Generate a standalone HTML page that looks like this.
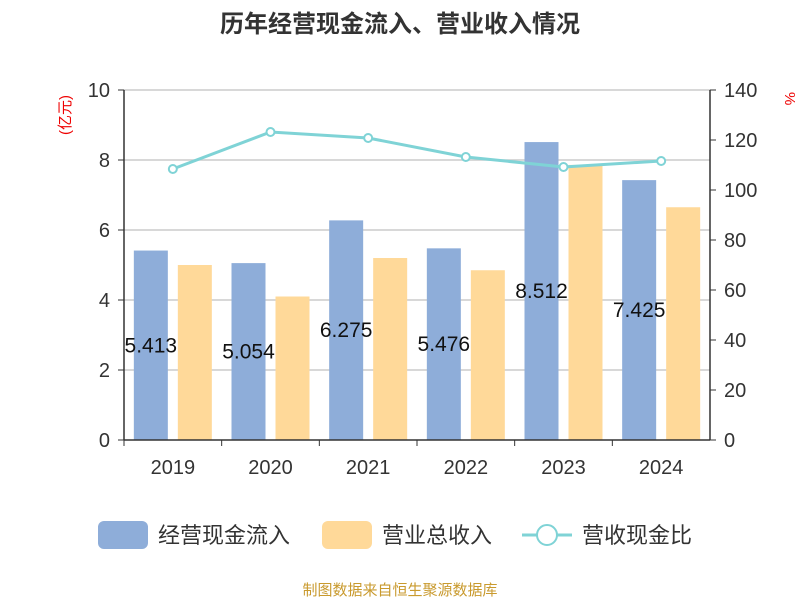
<!DOCTYPE html>
<html><head><meta charset="utf-8"><style>
body{margin:0;background:#fff;font-family:"Liberation Sans","Noto Sans CJK SC",sans-serif;}
</style></head><body>
<svg id="c" width="800" height="600" xmlns="http://www.w3.org/2000/svg" style="font-family:'Liberation Sans','Noto Sans CJK SC',sans-serif">
<text x="400" y="32" text-anchor="middle" font-size="24" font-weight="bold" fill="#333">历年经营现金流入、营业收入情况</text>
<text x="70" y="115" font-size="15" fill="#e00" transform="rotate(-90 70 115)" text-anchor="middle">(亿元)</text>
<text x="785" y="92" font-size="15" fill="#e00" transform="rotate(90 785 92)">%</text>
<g id="grid"></g><g id="bars"></g><g id="line"></g><g id="axes"></g>
<g>
<rect x="98" y="521" width="50" height="28" rx="6" fill="#8eadd9"/>
<text x="158" y="543" font-size="22" fill="#333">经营现金流入</text>
<rect x="322" y="521" width="50" height="28" rx="6" fill="#ffd999"/>
<text x="382" y="543" font-size="22" fill="#333">营业总收入</text>
<line x1="522" y1="535" x2="572" y2="535" stroke="#7fd3d6" stroke-width="3"/>
<circle cx="547" cy="535" r="10" fill="#fff" stroke="#7fd3d6" stroke-width="2"/>
<text x="582" y="543" font-size="22" fill="#333">营收现金比</text>
</g>
<text x="400" y="595" text-anchor="middle" font-size="15" fill="#c99a2e">制图数据来自恒生聚源数据库</text>
</svg>
<script>
const categories=["2019","2020","2021","2022","2023","2024"];
const cashInflow=[5.413,5.054,6.275,5.476,8.512,7.425];
const revenue=[5.0,4.1,5.2,4.85,7.86,6.65];
const ratio=[108.4,123.2,120.8,113.2,109.2,111.6];
const leftTicks=[0,2,4,6,8,10];
const rightTicks=[0,20,40,60,80,100,120,140];
const NS="http://www.w3.org/2000/svg";
const x0=124,x1=710,yb=440,yt=90;
const bw=(x1-x0)/categories.length;
const yL=v=>yb-(v/10)*(yb-yt);
const yR=v=>yb-(v/140)*(yb-yt);
const xc=i=>x0+bw*(i+0.5);
function mk(tag,attrs,parent,txt){const e=document.createElementNS(NS,tag);for(const k in attrs)e.setAttribute(k,attrs[k]);if(txt!==undefined)e.textContent=txt;document.getElementById(parent).appendChild(e);return e;}
leftTicks.forEach(t=>{
 if(t>0){const g=mk('line',{x1:x0,x2:x1,y1:yL(t),y2:yL(t),stroke:'#ccc','stroke-width':1.5},'grid');
 
 }
 const l=mk('text',{x:x0-14,y:yL(t)+7,'text-anchor':'end','font-size':20,fill:'#333'},'axes',String(t));
 
 
 const tk=mk('line',{x1:x0-6,x2:x0,y1:yL(t),y2:yL(t),stroke:'#333'},'axes');
 
 
});
rightTicks.forEach(t=>{
 const l=mk('text',{x:x1+14,y:yR(t)+7,'font-size':20,fill:'#333'},'axes',String(t));
 
 
 const tk=mk('line',{x1:x1,x2:x1+6,y1:yR(t),y2:yR(t),stroke:'#333'},'axes');
 
 
});
[[x0,yt,x0,yb,'left-axis'],[x1,yt,x1,yb,'right-axis'],[x0,yb,x1,yb,'x-axis']].forEach(a=>{
 const l=mk('line',{x1:a[0],y1:a[1],x2:a[2],y2:a[3],stroke:'#333','stroke-width':1.5},'axes');
 
 
});
categories.forEach((c,i)=>{
 const tk=mk('line',{x1:x0+bw*i,x2:x0+bw*i,y1:yb,y2:yb+6,stroke:'#333'},'axes');
 
 
 const l=mk('text',{x:xc(i),y:yb+34,'text-anchor':'middle','font-size':20,fill:'#333'},'axes',c);
 
 
 const b1=mk('rect',{x:xc(i)-39,y:yL(cashInflow[i]),width:34,height:yb-yL(cashInflow[i]),fill:'#8eadd9'},'bars');
 
 
 const b2=mk('rect',{x:xc(i)+5,y:yL(revenue[i]),width:34,height:yb-yL(revenue[i]),fill:'#ffd999'},'bars');
 
 
 const v=mk('text',{x:xc(i)-22,y:(yb+yL(cashInflow[i]))/2+7,'text-anchor':'middle','font-size':21,fill:'#111'},'bars',cashInflow[i].toFixed(3));
 
 
});
const pl=mk('polyline',{points:ratio.map((r,i)=>xc(i)+','+yR(r)).join(' '),fill:'none',stroke:'#7fd3d6','stroke-width':3},'line');


ratio.forEach((r,i)=>{
 const p=mk('circle',{cx:xc(i),cy:yR(r),r:4,fill:'#fff',stroke:'#7fd3d6','stroke-width':2},'line');
 
 
});
</script>
</body></html>
